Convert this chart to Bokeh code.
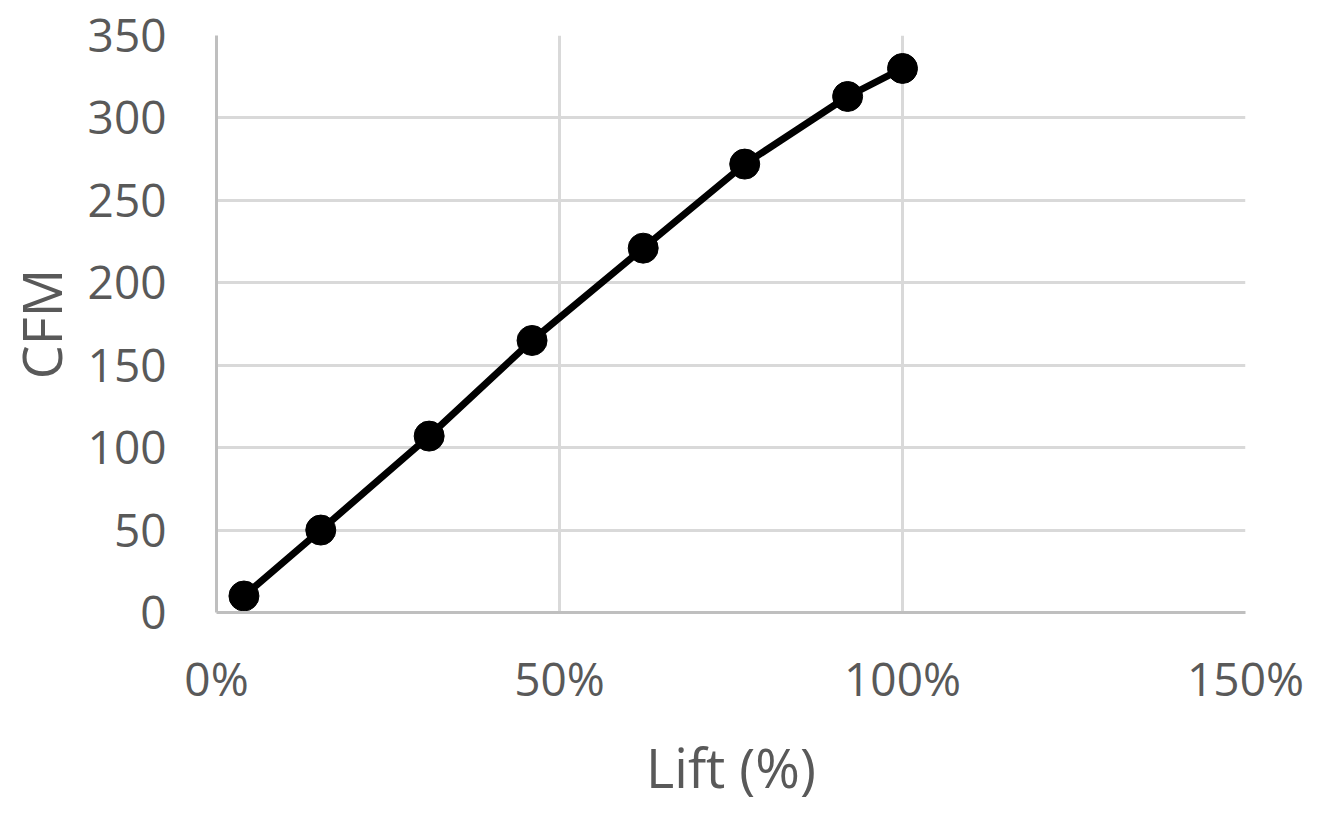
from bokeh.plotting import figure
from bokeh.models import Range1d, FixedTicker, NumeralTickFormatter
from bokeh.embed import file_html
from bokeh.resources import INLINE

lift = [0.04, 0.152, 0.31, 0.46, 0.622, 0.77, 0.92, 1.00]
cfm = [10, 50, 107, 165, 221, 272, 313, 330]
x_ticks = [0, 0.5, 1.0, 1.5]
y_ticks = [0, 50, 100, 150, 200, 250, 300, 350]

p = figure(width=1311, height=806, output_backend="svg", toolbar_location=None,
           x_range=Range1d(0, 1.5), y_range=Range1d(0, 350),
           min_border_left=216, min_border_right=66, min_border_top=35, min_border_bottom=193)
p.outline_line_color = None
p.background_fill_color = "white"

p.line(lift, cfm, line_color="black", line_width=7)
p.scatter(lift, cfm, size=30, fill_color="black", line_color="black")

FONT = "Open Sans"
for ax in (p.xaxis[0], p.yaxis[0]):
    ax.axis_line_color = "#bfbfbf"
    ax.axis_line_width = 3
    ax.major_tick_line_color = None
    ax.minor_tick_line_color = None
    ax.major_tick_out = 0
    ax.major_tick_in = 0
    ax.major_label_text_font = FONT
    ax.major_label_text_font_size = "46px"
    ax.major_label_text_color = "#595959"
    ax.axis_label_text_font = FONT
    ax.axis_label_text_font_size = "54px"
    ax.axis_label_text_color = "#595959"
    ax.axis_label_text_font_style = "normal"

p.xaxis[0].ticker = FixedTicker(ticks=x_ticks)
p.xaxis[0].formatter = NumeralTickFormatter(format="0%")
p.xaxis[0].major_label_standoff = 34
p.xaxis[0].axis_label = "Lift (%)"
p.xaxis[0].axis_label_standoff = 18

p.yaxis[0].ticker = FixedTicker(ticks=y_ticks)
p.yaxis[0].major_label_standoff = 50
p.yaxis[0].axis_label = "CFM"
p.yaxis[0].axis_label_standoff = 7

p.xgrid[0].grid_line_color = "#d9d9d9"
p.xgrid[0].grid_line_width = 3
p.ygrid[0].grid_line_color = "#d9d9d9"
p.ygrid[0].grid_line_width = 3

open("out.html", "w").write(file_html(p, INLINE))
